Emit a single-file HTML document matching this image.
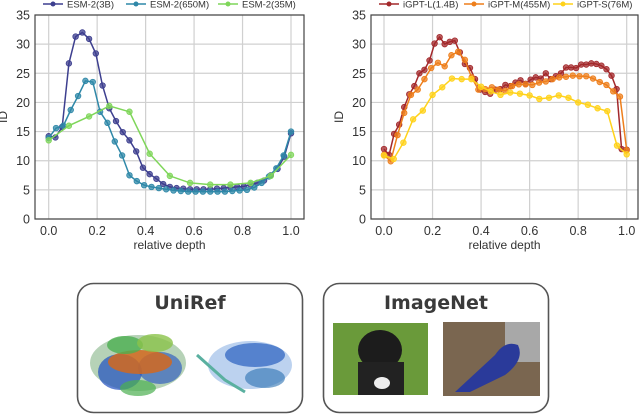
<!DOCTYPE html>
<html><head><meta charset="utf-8">
<style>
body{margin:0;background:#fff;width:640px;height:415px;overflow:hidden;font-family:"Liberation Sans","DejaVu Sans",sans-serif}
svg{position:absolute;left:0;top:0}
</style></head>
<body>
<svg id="fig" width="640" height="415" viewBox="0 0 640 415" xmlns="http://www.w3.org/2000/svg">
  <g id="left"></g>
  <g id="right"></g>
  <g>
    <rect x="77.5" y="283.5" width="225" height="129" rx="16" fill="#fff" stroke="#555" stroke-width="1.6"/>
    <text x="190" y="309" text-anchor="middle" font-size="19" font-weight="bold" fill="#3a3a3a" font-family="DejaVu Sans, Liberation Sans, sans-serif">UniRef</text>
    <g>
      <ellipse cx="138" cy="363" rx="48" ry="28" fill="#2e7d32" opacity="0.35"/>
      <ellipse cx="120" cy="372" rx="22" ry="18" fill="#1f4fbf" opacity="0.7"/>
      <ellipse cx="160" cy="368" rx="22" ry="16" fill="#1f4fbf" opacity="0.6"/>
      <ellipse cx="140" cy="362" rx="32" ry="12" fill="#d2691e" opacity="0.85"/>
      <ellipse cx="125" cy="345" rx="18" ry="9" fill="#4caf50" opacity="0.8"/>
      <ellipse cx="155" cy="343" rx="18" ry="9" fill="#8bc34a" opacity="0.8"/>
      <ellipse cx="138" cy="388" rx="18" ry="8" fill="#4caf50" opacity="0.7"/>
    </g>
    <g>
      <ellipse cx="250" cy="365" rx="42" ry="24" fill="#3f7fd0" opacity="0.35"/>
      <ellipse cx="255" cy="355" rx="30" ry="12" fill="#2a5fc0" opacity="0.7"/>
      <ellipse cx="265" cy="378" rx="20" ry="10" fill="#2a6fb0" opacity="0.6"/>
      <path d="M197 355 L225 380 L245 392" stroke="#5ab0a0" stroke-width="3" fill="none"/>
    </g>
  </g>
  <g>
    <rect x="323.5" y="283.5" width="225" height="129" rx="16" fill="#fff" stroke="#555" stroke-width="1.6"/>
    <text x="436" y="309" text-anchor="middle" font-size="19" font-weight="bold" fill="#3a3a3a" font-family="DejaVu Sans, Liberation Sans, sans-serif">ImageNet</text>
    <g>
      <rect x="333" y="323" width="95" height="72" fill="#6a9a3a"/>
      <ellipse cx="380" cy="350" rx="22" ry="20" fill="#1c1c1c"/>
      <rect x="358" y="362" width="46" height="33" fill="#222"/>
      <ellipse cx="382" cy="383" rx="8" ry="6" fill="#eee"/>
    </g>
    <g>
      <rect x="443" y="322" width="97" height="74" fill="#7a6650"/>
      <rect x="505" y="322" width="35" height="40" fill="#a8a8a8"/>
      <path d="M455 392 L495 355 Q505 340 518 345 Q525 360 505 375 L470 392 Z" fill="#2a3a9a"/>
    </g>
  </g>
</svg>
<script>
const esm3bValues=[14.2,14,15.8,26.7,31.3,32,30.9,28.4,22.9,19,16.8,14.9,13.5,11.6,8.8,7.7,6.9,6,5.5,5.3,5.2,5.1,5.1,5.1,5.1,5.2,5.3,5.4,5.5,5.6,5.9,6.2,6.6,7.5,8.6,10.7,14.7];
const esm650mValues=[13.9,15.6,16,18.7,21.1,23.7,23.5,18.4,16.5,13.3,10.9,7.5,6.5,5.8,5.5,5.3,5.1,4.9,4.8,4.7,4.7,4.7,4.7,4.7,4.7,4.8,4.9,5.0,5.4,6.2,7.3,8.7,10.9,15.0];
const esm35mValues=[13.5,16,17.6,19.4,18.4,11.2,7.4,6.2,5.9,5.9,6.2,7.4,11];
const igptLValues=[12,11,14.6,16.2,19.2,21.4,22.8,25,25.6,27.2,30.1,31.2,30,30.4,30.6,28.6,26.6,25.9,24,22.2,21.8,21.5,22.2,22.3,23,22.8,23.4,23.8,23.2,23.9,24.3,24.1,25,24,24.5,25,26,26,25.9,26.5,26.5,26.7,26.6,26.3,25.7,24.6,22.3,12,11.9];
const igptMValues=[11,9.9,14.4,18.2,21.3,22.2,24,25.9,26.8,26.2,28.1,28.7,27.3,24.3,22.2,22.3,22.6,22.2,22,22.8,23.1,23.1,23,23.4,23.6,24,24.3,24.4,24.6,24.5,24.5,24.1,23.5,23,21.9,21,11.8];
const igptSValues=[10.9,10.3,13.1,17.1,18.6,21.3,22.6,24.1,24,24,22.7,21.9,21.3,21.7,21.5,21.2,20.6,20.8,21.2,20.8,20,19.6,19,18.5,12.6,11.1];
const xTickLabels=["0.0","0.2","0.4","0.6","0.8","1.0"];
const xTickValues=[0,0.2,0.4,0.6,0.8,1.0];
const yTickValues=[0,5,10,15,20,25,30,35];
const leftNames=["ESM-2(3B)","ESM-2(650M)","ESM-2(35M)"];
const rightNames=["iGPT-L(1.4B)","iGPT-M(455M)","iGPT-S(76M)"];

const NS="http://www.w3.org/2000/svg";
function mk(tag,attrs,parent){const e=document.createElementNS(NS,tag);for(const k in attrs)e.setAttribute(k,attrs[k]);parent.appendChild(e);return e;}

function drawChart(g,cfg){
  const xs=v=>cfg.x0+v*(cfg.x1-cfg.x0);
  const ys=v=>219-v*(219-15)/35;
  xTickValues.forEach((v,i)=>{
    const l=mk('line',{x1:xs(v),x2:xs(v),y1:15,y2:219,stroke:'#d0d0d0','stroke-width':1.2},g);
    
    
    const t=mk('text',{x:xs(v),y:235,'text-anchor':'middle','font-size':12.5,fill:'#333'},g);
    t.textContent=xTickLabels[i];
    
    
  });
  yTickValues.forEach(v=>{
    const l=mk('line',{x1:cfg.fl,x2:cfg.fr,y1:ys(v),y2:ys(v),stroke:'#d0d0d0','stroke-width':1.2},g);
    
    
    const t=mk('text',{x:cfg.fl-5,y:ys(v)+4.5,'text-anchor':'end','font-size':12.5,fill:'#333'},g);
    t.textContent=String(v);
    
    
  });
  const fr=mk('rect',{x:cfg.fl,y:15,width:cfg.fr-cfg.fl,height:204,fill:'none',stroke:'#444','stroke-width':1.2},g);
  
  
  const xl=mk('text',{x:(cfg.fl+cfg.fr)/2,y:249,'text-anchor':'middle','font-size':12,fill:'#333'},g);
  xl.textContent='relative depth';
  
  
  const yl=mk('text',{x:cfg.fl-28,y:117,'text-anchor':'middle','font-size':12,fill:'#333',transform:`rotate(-90 ${cfg.fl-28} 117)`},g);
  yl.textContent='ID';
  
  
  cfg.series.forEach((s,si)=>{
    const n=s.vals.length;
    const pts=s.vals.map((v,i)=>xs(i/(n-1)).toFixed(1)+','+ys(v).toFixed(1)).join(' ');
    const sg=mk('g',{},g);
    
    
    const pl=mk('polyline',{points:pts,fill:'none',stroke:s.color,'stroke-width':1.5},sg);
    
    
    s.vals.forEach((v,i)=>{
      const c=mk('circle',{cx:xs(i/(n-1)),cy:ys(v),r:2.8,fill:s.color,'fill-opacity':0.75,stroke:s.color,'stroke-width':0.8},sg);
      
      
    });
    const lx=cfg.leg[si];
    const lg=mk('g',{},g);
    
    
    mk('line',{x1:lx,x2:lx+20,y1:4,y2:4,stroke:s.color,'stroke-width':1.5},lg);
    mk('circle',{cx:lx+10,cy:4,r:2.5,fill:s.color},lg);
    const t=mk('text',{x:lx+24,y:7.5,'font-size':9.5,fill:'#333'},lg);
    t.textContent=s.name;
  });
}
drawChart(document.getElementById('left'),{x0:48.7,x1:291,fl:35,fr:304,leg:[43,126,218],
  series:[{key:'esm-3b',name:leftNames[0],vals:esm3bValues,color:'#3d3f8f'},
          {key:'esm-650m',name:leftNames[1],vals:esm650mValues,color:'#2f88a8'},
          {key:'esm-35m',name:leftNames[2],vals:esm35mValues,color:'#7fd65a'}]});
drawChart(document.getElementById('right'),{x0:384,x1:626.7,fl:371,fr:638,leg:[379,464,553],
  series:[{key:'igpt-l',name:rightNames[0],vals:igptLValues,color:'#a3282b'},
          {key:'igpt-m',name:rightNames[1],vals:igptMValues,color:'#ee7f1c'},
          {key:'igpt-s',name:rightNames[2],vals:igptSValues,color:'#ffd21a'}]});
</script>
</body></html>
